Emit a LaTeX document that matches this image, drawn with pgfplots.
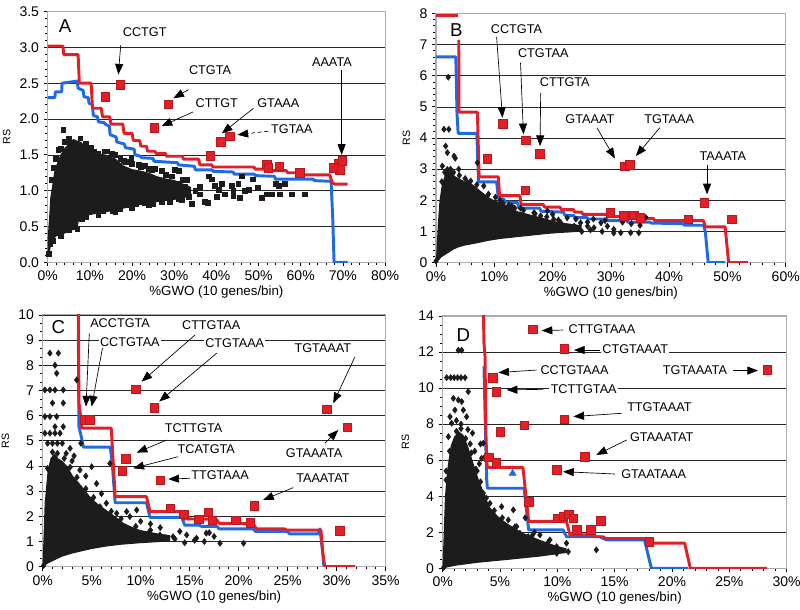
\documentclass[border=0pt]{standalone}
\usepackage{pgfplots}
\pgfplotsset{compat=1.18}
\usepackage{fontspec}
\setmainfont{Liberation Sans}
\usetikzlibrary{arrows.meta}
\definecolor{rr}{RGB}{228,30,38}
\definecolor{bb}{RGB}{30,105,230}
\definecolor{kk}{RGB}{28,28,28}
\tikzset{
 lab/.style={fill=white, inner sep=1pt, font=\fontsize{9.5}{11}\selectfont},
 arr/.style={black, line width=0.5pt, -{Triangle[length=8pt,width=6pt]}},
 pletter/.style={fill=white, inner sep=1pt, font=\fontsize{14}{16}\selectfont},
}
\pgfplotsset{
 panel/.style={
  scale only axis,
  axis line style={gray!65, line width=0.8pt},
  ymajorgrids, grid style={black!85, line width=0.45pt},
  minor grid style={draw=none},
  tick pos=left, tick align=outside, major tick length=3pt, minor tick length=2pt,
  tick style={black, line width=0.5pt},
  minor tick num=4,
  ticklabel style={font=\fontsize{10.5}{12}\selectfont},
  xlabel={\%GWO (10 genes/bin)},
  xlabel style={font=\fontsize{10}{12}\selectfont, yshift=3pt},
  ylabel={RS},
  ylabel style={font=\fontsize{8}{10}\selectfont},
  xmin=0, ymin=0,
 },
 cloud/.style={draw=none, fill=kk},
 pts/.style={only marks, mark=square*, mark size=1.8pt, color=kk},
 dia/.style={only marks, mark=diamond*, mark size=2.3pt, color=kk},
 redl/.style={rr, line width=2.2pt, line join=round, no marks},
 bluel/.style={bb, line width=2.2pt, line join=round, no marks},
 rsq/.style={only marks, mark=square*, mark size=3.2pt, color=rr, mark options={draw=rr!80!black, line width=0.3pt, fill=rr}},
}
\begin{document}
\begin{tikzpicture}
\useasboundingbox (0,0) rectangle (600pt,457.5pt);
% ---------------- A ----------------
\begin{axis}[panel, at={(35.8pt,260.8pt)}, anchor=south west, width=253pt, height=188pt,
  xmax=80, ymax=3.5,
  xtick={0,10,20,30,40,50,60,70,80}, xticklabels={0\%,10\%,20\%,30\%,40\%,50\%,60\%,70\%,80\%},
  ytick={0,0.5,1,1.5,2,2.5,3,3.5}, yticklabels={0.0,0.5,1.0,1.5,2.0,2.5,3.0,3.5}]
\addplot[cloud] coordinates {(0,0.35)(0.3,0.6)(0.6,0.9)(1,1.05)(1.5,1.25)(2,1.35)(3,1.5)(4,1.6)(5,1.65)(6,1.72)(7,1.7)(8,1.68)(9,1.6)(10,1.57)(12,1.52)(14,1.5)(16,1.45)(18,1.35)(20,1.3)(22,1.28)(24,1.25)(26,1.2)(28,1.17)(30,1.15)(32,1.1)(34,1.05)
 (34,0.92)(30,0.87)(26,0.84)(22,0.8)(18,0.75)(14,0.7)(10,0.66)(7.5,0.62)(7,0.46)(6,0.45)(4,0.4)(2,0.36)(1,0.3)(0.5,0.15)(0,0.08)} -- cycle;
\addplot[pts] coordinates {(0.3,0.12)(0.6,0.25)(1.2,0.3)(2.5,1.57)(3.7,1.85)(5.3,1.64)(6.5,1.66)(7.7,1.73)(8.7,1.62)(10.3,1.6)(11,1.55)(12,1.52)(13.5,1.55)(15.2,1.52)(16,1.5)(17.2,1.45)(18.5,1.4)(19.8,1.45)(21.5,1.36)(23,1.35)(24.6,1.29)(25.4,1.31)(27,1.28)(28,1.22)(29.5,1.2)(30.2,1.29)(31,1.28)(32,1.15)(33,1.15)
 (27,1.06)(29.4,1.01)(30.9,1.1)(32.6,1.06)(33.4,0.92)(34.2,0.82)(31.8,0.87)(35,1.0)(36,1.05)(37.3,0.85)(38.1,1.2)(38.9,1.16)(39.7,1.07)(40.5,1.01)(41.3,1.1)(42,0.95)(43.6,1.07)(44,1.0)(45.2,1.1)(46,1.2)(46.8,1.0)(47.6,1.01)(48.7,1.16)(49.9,1.04)(50.7,0.9)(52,0.95)(53.1,0.95)(54,1.1)(54.7,1.07)(56.3,1.1)(57.9,0.95)(61.0,0.95)
 (5,0.45)(7,0.47)(9,0.64)(13,0.72)(15.5,0.72)(17,0.75)(19.5,0.8)(21,0.82)(23,0.83)(25,0.82)(27,0.85)(29,0.85)(31,0.88)(36,0.95)(38,0.83)(40,0.92)(44,0.93)(45.5,0.9)(55,0.95)
 (1,1.15)(1.5,1.32)(2,1.45)(3,1.58)(4,1.68)(5,1.72)(9,1.65)(14,1.55)(18,1.42)(20,1.37)(22,1.33)(24,1.3)(3,0.37)(8,0.6)(12,0.66)(16,0.71)(20,0.76)(24,0.8)};
\addplot[bluel] coordinates {(0,2.3)(1.7,2.3)(1.8,2.38)(3.3,2.38)(3.4,2.5)(7.0,2.53)(7.2,2.43)(8.4,2.4)(8.6,2.31)(9.6,2.3)(9.8,2.22)(10.6,2.2)(10.8,2.05)(11.8,2.03)(12,1.96)(13.4,1.95)(13.6,1.93)(14.6,1.9)(14.8,1.78)(16.2,1.75)(16.4,1.68)(18.2,1.65)(18.4,1.6)(20.5,1.58)(20.7,1.5)(22,1.48)(22.2,1.46)(25,1.45)(25.2,1.41)(30.8,1.39)(31,1.36)(34.8,1.34)(35,1.29)(39,1.29)(39.2,1.27)(44,1.26)(44.2,1.23)(49,1.23)(49.2,1.21)(53.8,1.2)(54,1.16)(63,1.16)(63.2,1.14)(67.2,1.13)(67.6,0.6)(67.9,0)(71.1,0)};
\addplot[redl] coordinates {(0,3.02)(3.6,3.02)(3.8,2.9)(7.2,2.9)(7.5,2.5)(10.3,2.5)(10.6,2.15)(12.7,2.15)(13,2.03)(14.7,2.03)(15,1.93)(17.8,1.93)(18.1,1.8)(20,1.8)(20.3,1.7)(21.8,1.7)(22.1,1.62)(23.4,1.62)(23.7,1.55)(25.4,1.55)(25.7,1.52)(27.9,1.52)(28.2,1.48)(31.9,1.48)(32.2,1.44)(35.8,1.44)(36.1,1.36)(38.9,1.36)(39.2,1.33)(48.9,1.33)(49.2,1.30)(52.8,1.30)(53.1,1.28)(56.6,1.28)(56.9,1.25)(59.8,1.25)(60.1,1.22)(66.9,1.22)(67.4,1.12)(68,1.09)(71.1,1.09)};
\addplot[rsq] coordinates {(13.6,2.31)(17.2,2.48)(28.6,2.21)(25.2,1.88)(38.5,1.49)(41,1.68)(43.1,1.76)(51.9,1.37)(52.3,1.32)(54.9,1.34)(59.8,1.25)(68.9,1.38)(69.2,1.29)(67.7,1.32)(69.8,1.42)};
\draw[arr] (axis cs:17.3,3.03) -- (axis cs:16.75,2.62);
\draw[arr] (axis cs:33.4,2.41) -- (axis cs:29.8,2.29);
\draw[arr] (axis cs:34.5,2.10) -- (axis cs:27.0,1.90);
\draw[arr] (axis cs:48.8,2.15) -- (axis cs:41.3,1.80);
\draw[arr, densely dashed] (axis cs:52.3,1.83) -- (axis cs:45.0,1.78);
\draw[arr] (axis cs:69.7,2.68) -- (axis cs:69.7,1.50);
\node[lab] at (axis cs:23.0,3.22) {CCTGT};
\node[lab] at (axis cs:38.5,2.68) {CTGTA};
\node[lab] at (axis cs:40.1,2.22) {CTTGT};
\node[lab] at (axis cs:54.7,2.22) {GTAAA};
\node[lab] at (axis cs:57.9,1.86) {TGTAA};
\node[lab] at (axis cs:67.4,2.79) {AAATA};
\node[pletter] at (axis cs:4.1,3.3) {A};
\end{axis}
% ---------------- B ----------------
\begin{axis}[panel, at={(327pt,260.5pt)}, anchor=south west, width=262.3pt, height=187pt,
  xmax=60, ymax=8,
  xtick={0,10,20,30,40,50,60}, xticklabels={0\%,10\%,20\%,30\%,40\%,50\%,60\%},
  ytick={0,1,2,3,4,5,6,7,8}, yticklabels={0,1,2,3,4,5,6,7,8}]
\addplot[cloud] coordinates {(0,0.1)(0.3,1.2)(0.6,2.0)(1,2.5)(1.5,2.8)(2,3.0)(2.5,2.9)(3,2.8)(4,2.7)(5,2.6)(6,2.55)(7,2.4)(8,2.25)(9,2.1)(10,2.0)(11,1.93)(12,1.85)(13,1.75)(14,1.65)(15,1.6)(17,1.5)(19,1.4)(21,1.3)(23,1.25)(25,1.2)
 (25,1.0)(23,0.97)(21,0.95)(19,0.92)(17,0.88)(15,0.84)(13,0.8)(11,0.76)(9,0.7)(7,0.62)(5,0.55)(4,0.5)(3,0.42)(2,0.3)(1,0.18)(0.5,0.08)(0,0)} -- cycle;
\addplot[dia] coordinates {(0,0.05)(2.1,5.95)(1.37,4.28)(2.2,4.28)(1.66,3.74)(1.95,3.53)(3.1,3.42)(1.08,3.1)(1.95,2.99)(2.8,2.83)(3.3,3.35)(3.9,3.0)(5.4,2.57)(5.95,2.62)(6.5,2.3)(7.1,3.21)(8.2,2.46)(8.8,2.14)(9.4,1.76)(10.2,2.1)(11.5,1.9)(12.5,1.85)(13.5,1.75)(14.5,1.75)(16.8,1.6)(17.95,1.5)(19.1,1.66)(20.2,1.39)(21.4,1.28)(22.5,1.44)(23.7,1.17)(24.8,1.28)(26.0,1.17)(27.1,1.12)(28.3,1.28)(29.4,1.17)(30.5,1.07)(31.7,0.96)(33.4,0.96)(34.8,0.96)(36,1.45)(33.5,1.25)(30.5,0.95)(28.5,1.0)(26.5,1.05)(25,1.0)(20,1.55)(24,1.4)(27,1.4)(29,1.35)(32,1.3)(35,1.2)(26,1.3)
 (1,2.6)(1.5,2.9)(2.5,3.0)(3,2.9)(4,2.8)(5,2.7)(7,2.5)(9,2.2)(11,2.0)(13,1.82)(15,1.68)(17,1.57)(19,1.47)(21,1.37)};
\addplot[bluel] coordinates {(0,6.6)(3.4,6.6)(3.6,4.8)(3.8,4.15)(7.0,4.15)(7.3,2.59)(10.4,2.59)(10.7,2.05)(11.6,2.05)(11.8,1.95)(14,1.93)(14.2,1.75)(17.8,1.75)(18,1.65)(21.9,1.62)(22.1,1.52)(23.6,1.52)(23.8,1.45)(25.9,1.45)(26.1,1.4)(29.3,1.4)(29.5,1.35)(32.7,1.35)(32.9,1.3)(36.7,1.3)(36.9,1.27)(42.4,1.25)(42.6,1.2)(45.9,1.2)(46.2,1.0)(46.7,0)(49.6,0)};
\addplot[redl] coordinates {(0,7.93)(3.8,7.93)};
\addplot[redl] coordinates {(3.9,7.15)(3.95,4.83)(7.1,4.83)(7.4,2.75)(10.7,2.75)(10.9,2.15)(14.4,2.15)(14.6,1.87)(18.4,1.87)(18.6,1.78)(21.3,1.78)(21.5,1.7)(23.6,1.7)(23.8,1.62)(25,1.62)(25.2,1.55)(29.3,1.55)(29.5,1.48)(31.6,1.48)(31.8,1.45)(33.9,1.45)(34.1,1.42)(37.3,1.42)(37.5,1.35)(45.9,1.35)(46.2,1.15)(49.6,1.15)(50.2,0)(53.5,0)};
\addplot[rsq] coordinates {(11.4,4.46)(15.4,3.93)(17.8,3.5)(8.8,3.34)(15.3,2.32)(32.4,3.10)(33.2,3.15)(46,1.93)(50.7,1.39)(43.3,1.39)(29.9,1.6)(32.2,1.5)(33.9,1.52)(35,1.45)};
\draw[arr] (axis cs:10.4,7.25) -- (axis cs:11.4,4.65);
\draw[arr] (axis cs:14.5,6.42) -- (axis cs:15.0,4.12);
\draw[arr] (axis cs:17.96,5.45) -- (axis cs:17.85,3.74);
\draw[arr] (axis cs:27.6,4.33) -- (axis cs:30.7,3.34);
\draw[arr] (axis cs:38.4,4.33) -- (axis cs:34.3,3.42);
\draw[arr] (axis cs:46.5,3.13) -- (axis cs:46.5,2.19);
\node[lab] at (axis cs:13.8,7.5) {CCTGTA};
\node[lab] at (axis cs:18.4,6.72) {CTGTAA};
\node[lab] at (axis cs:22.1,5.78) {CTTGTA};
\node[lab] at (axis cs:26.4,4.62) {GTAAAT};
\node[lab] at (axis cs:40.0,4.62) {TGTAAA};
\node[lab] at (axis cs:49.2,3.42) {TAAATA};
\node[pletter, fill=none] at (axis cs:3.5,7.45) {B};
\end{axis}
% ---------------- C ----------------
\begin{axis}[panel, at={(32pt,32.5pt)}, anchor=south west, width=257.2pt, height=188.8pt,
  xmax=35, ymax=10, minor y tick num=2,
  xtick={0,5,10,15,20,25,30,35}, xticklabels={0\%,5\%,10\%,15\%,20\%,25\%,30\%,35\%},
  ytick={0,1,2,3,4,5,6,7,8,9,10}, yticklabels={0,1,2,3,4,5,6,7,8,9,10}]
\addplot[cloud] coordinates {(0,0.2)(0.2,2.5)(0.5,3.8)(0.8,4.3)(1.2,4.5)(1.6,4.3)(2,4.2)(2.5,4.0)(3.1,3.6)(4,3.2)(4.8,2.8)(5.6,2.5)(6.5,2.25)(7.4,2.0)(8.2,1.75)(9,1.6)(9.9,1.46)(11.6,1.33)(13,1.25)
 (13,1.0)(11.6,0.97)(9.9,0.93)(8,0.87)(6.5,0.8)(5,0.7)(3.1,0.53)(2,0.4)(1.3,0.27)(0.5,0.12)(0,0)} -- cycle;
\addplot[dia] coordinates {(0.1,0.05)(0.74,8.48)(1.6,8.48)(1.26,8.0)(1.43,7.68)(0.23,7.02)(0.74,7.02)(1.26,7.02)(2.1,7.02)(3.47,7.42)(1.0,6.5)(2.1,6.5)(0.23,5.96)(0.74,5.96)(1.43,5.96)(1.26,5.56)(2.1,5.56)(0.23,5.3)(0.74,5.3)(1.26,5.3)(1.77,5.3)(0.5,4.9)(1.0,4.9)(1.5,4.9)(2.0,4.9)(2.8,4.7)(2.4,4.5)(3.2,4.4)(3.9,4.9)(3.8,3.84)(5.0,3.97)(4.4,3.6)(5.5,3.3)(6.87,4.1)(3.0,4.2)(6.0,2.9)(5.85,2.38)(6.5,2.52)(7.55,2.12)(8.57,2.19)(9.6,2.25)(8.9,1.99)(10,1.8)(11,1.7)(12,1.55)(9.93,1.33)(10.9,1.39)(11.97,1.26)(13.3,1.19)(14.7,1.26)(15.7,1.13)(16.7,1.33)(18.1,0.93)(20.5,0.93)(13.5,1.1)(14.5,0.95)(15.5,1.05)(16.5,1.0)(17,1.35)(17.5,1.2)(12.5,1.15)(14,1.4)
 (0.5,3.9)(1,4.55)(1.5,4.5)(2.2,4.3)(2.8,3.95)(3.5,3.55)(4.4,3.1)(5.2,2.75)(7,2.2)(8,1.9)(9.5,1.6)(11,1.45)};
\addplot[bluel] coordinates {(3.64,9.3)(3.7,5.56)(3.98,5.1)(4.15,4.75)(6.9,4.75)(7.1,4.1)(7.4,2.54)(10.6,2.54)(10.95,1.96)(14.2,1.96)(14.5,1.65)(16,1.65)(16.2,1.6)(17.8,1.6)(18,1.5)(21.5,1.5)(21.7,1.4)(25,1.4)(25.2,1.3)(28.1,1.3)(28.3,1.5)(28.6,0.5)(28.7,0)};
\addplot[redl] coordinates {(3.64,10.3)(3.7,6.5)(3.9,5.9)(4.0,5.5)(7.0,5.5)(7.4,2.78)(10.6,2.78)(10.95,2.19)(14.2,2.19)(14.4,1.9)(17.5,1.88)(17.8,1.85)(18,1.72)(21.5,1.72)(21.8,1.5)(24.7,1.5)(24.9,1.45)(28.4,1.45)(28.6,0.5)(28.8,0)(31.9,0)};
\addplot[rsq] coordinates {(9.5,7.05)(11.4,6.32)(4.3,5.83)(4.8,5.83)(8.5,4.28)(8.1,3.81)(12.0,3.44)(13,2.32)(14.4,2.09)(15.9,1.88)(16.9,2.16)(17.3,1.85)(19.7,1.85)(21.2,1.75)(21.6,2.42)(29,6.25)(31.1,5.54)(30.3,1.42)};
\draw[arr] (axis cs:4.76,9.27) -- (axis cs:4.42,6.36);
\draw[arr] (axis cs:6.19,8.87) -- (axis cs:5.0,6.36);
\draw[arr] (axis cs:15.54,9.2) -- (axis cs:10.1,7.35);
\draw[arr] (axis cs:17.76,8.48) -- (axis cs:11.9,6.56);
\draw[arr] (axis cs:31.87,8.34) -- (axis cs:29.66,6.49);
\draw[arr] (axis cs:28.8,4.9) -- (axis cs:30.17,5.43);
\draw[arr] (axis cs:12.65,5.03) -- (axis cs:9.59,4.53);
\draw[arr] (axis cs:13.84,4.37) -- (axis cs:9.25,3.91);
\draw[arr] (axis cs:15.03,3.51) -- (axis cs:12.82,3.48);
\draw[arr] (axis cs:25.58,3.14) -- (axis cs:22.5,2.65);
\node[lab] at (axis cs:7.9,9.67) {ACCTGTA};
\node[lab] at (axis cs:8.9,8.9) {CCTGTAA};
\node[lab] at (axis cs:17.2,9.6) {CTTGTAA};
\node[lab] at (axis cs:19.6,8.87) {CTGTAAA};
\node[lab] at (axis cs:28.6,8.68) {TGTAAAT};
\node[lab] at (axis cs:27.7,4.5) {GTAAATA};
\node[lab] at (axis cs:15.4,5.5) {TCTTGTA};
\node[lab] at (axis cs:16.7,4.66) {TCATGTA};
\node[lab] at (axis cs:18.1,3.64) {TTGTAAA};
\node[lab] at (axis cs:28.6,3.5) {TAAATAT};
\node[pletter] at (axis cs:1.6,9.5) {C};
\end{axis}
% ---------------- D ----------------
\begin{axis}[panel, at={(332pt,31.3pt)}, anchor=south west, width=258pt, height=189.2pt,
  xmax=30, ymax=14, minor y tick num=3,
  xtick={0,5,10,15,20,25,30}, xticklabels={0\%,5\%,10\%,15\%,20\%,25\%,30\%},
  ytick={0,2,4,6,8,10,12,14}, yticklabels={0,2,4,6,8,10,12,14}]
\addplot[cloud] coordinates {(0,0.3)(0.2,4.0)(0.4,5.5)(0.7,6.8)(1.0,7.3)(1.4,7.6)(1.8,7.4)(2.2,6.8)(2.7,5.8)(3.1,5.0)(3.5,4.35)(4.1,3.4)(4.8,2.9)(5.6,2.5)(7,1.96)(8.5,1.57)(9.9,1.25)(10.8,1.1)
 (10.8,0.85)(8.5,0.65)(5.6,0.46)(3,0.3)(1.2,0.15)(0,0)} -- cycle;
\addplot[dia] coordinates {(0.1,0.05)(1.36,12.1)(1.66,12.1)(0.35,10.58)(0.7,10.58)(1.0,10.58)(1.3,10.58)(1.6,10.58)(1.95,10.58)(2.23,9.8)(0.93,9.43)(1.36,9.34)(1.66,9.25)(1.07,8.78)(1.8,8.78)(2.09,8.41)(0.64,8.41)(0.78,8.05)(1.2,8.2)(1.6,8.0)(2.2,7.7)(2.6,7.5)(0.5,7.3)(2.4,6.9)(2.8,6.5)(3.2,5.8)(2.9,5.5)(3.54,6.94)(3.4,6.1)(3.7,6.2)(3.54,4.16)(4.12,3.6)(5.14,3.42)(6.16,3.24)(4.41,2.86)(5.72,2.68)(6.45,2.31)(6.74,1.94)(7.46,1.76)(8.48,1.85)(9.35,1.57)(9.94,1.2)(10.8,1.39)(9.94,0.83)(10.95,0.92)(13.4,1.02)(0.3,5.4)(3.3,6.9)(7.2,2.8)(8.0,2.0)
 (0.3,4.9)(0.6,6.5)(1.2,7.6)(1.6,7.75)(2.0,7.2)(2.5,6.4)(3,5.4)(3.3,4.8)(3.8,3.9)(4.5,3.2)(5.2,2.8)(6.3,2.3)(7.8,1.8)(9.2,1.45)};
\addplot[only marks, mark=triangle*, mark size=3pt, color=bb] coordinates {(6.1,5.27)};
\addplot[bluel] coordinates {(3.6,11.2)(3.7,8.5)(3.84,4.9)(3.9,4.44)(7.1,4.44)(7.5,2.13)(10.5,2.13)(10.8,1.75)(13.7,1.75)(14.3,1.57)(17.6,1.57)(18.2,0)(21.4,0)};
\addplot[redl] coordinates {(3.55,14.3)(3.6,12.5)(3.7,11.7)(3.75,8)(3.84,6.0)(3.9,5.6)(7.0,5.6)(7.5,2.6)(10.8,2.6)(11.1,1.85)(13.1,1.85)(13.3,1.75)(14.0,1.75)(14.2,1.65)(17.8,1.65)(17.9,1.4)(21.1,1.4)(21.6,0)(28.3,0)};
\addplot[rsq] coordinates {(7.85,13.28)(10.6,12.19)(28.3,11.02)(4.36,10.58)(4.65,9.8)(10.6,8.27)(7.1,7.95)(5,7.58)(12.4,6.2)(4,6.16)(4.65,5.86)(9.94,5.46)(7.5,3.7)(10,2.77)(10.5,2.9)(11,3.0)(11.4,2.77)(11.7,2.13)(12.9,2.13)(13.8,2.64)(18,1.48)};
\draw[arr] (axis cs:10.52,13.22) -- (axis cs:8.63,13.19);
\draw[arr] (axis cs:13.72,12.11) -- (axis cs:11.45,12.11);
\draw[arr] (axis cs:8.2,11.0) -- (axis cs:4.85,10.86);
\draw[arr] (axis cs:8.78,9.93) -- (axis cs:5.58,9.9);
\draw[arr] (axis cs:25.3,10.97) -- (axis cs:27.5,10.97);
\draw[arr] (axis cs:15.6,8.6) -- (axis cs:11.4,8.42);
\draw[arr] (axis cs:16.05,7.12) -- (axis cs:13.4,6.29);
\draw[arr] (axis cs:15.03,5.23) -- (axis cs:10.5,5.36);
\node[lab] at (axis cs:13.9,13.26) {CTTGTAAA};
\node[lab] at (axis cs:16.8,12.15) {CTGTAAAT};
\node[lab] at (axis cs:11.5,10.97) {CCTGTAAA};
\node[lab] at (axis cs:12.3,9.93) {TCTTGTAA};
\node[lab] at (axis cs:22.0,11.02) {TGTAAATA};
\node[lab] at (axis cs:18.9,8.93) {TTGTAAAT};
\node[lab] at (axis cs:19.1,7.3) {GTAAATAT};
\node[lab] at (axis cs:18.4,5.23) {GTAATAAA};
\node[pletter] at (axis cs:1.8,12.95) {D};
\end{axis}
\end{tikzpicture}
\end{document}
